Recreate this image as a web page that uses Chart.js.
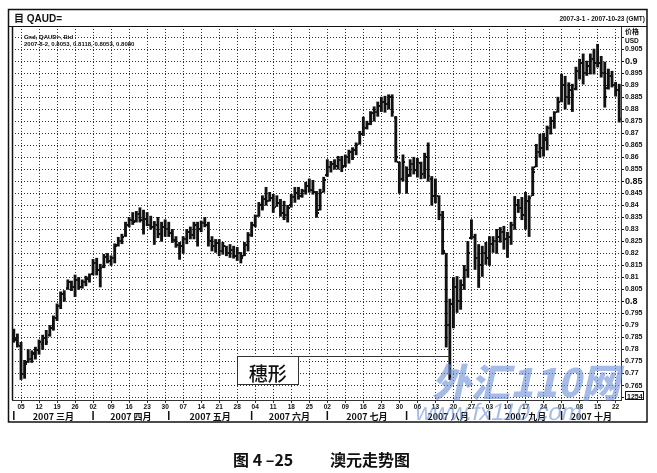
<!DOCTYPE html>
<html>
<head>
<meta charset="utf-8">
<script src="https://cdn.jsdelivr.net/npm/chart.js@4.4.1/dist/chart.umd.min.js"></script>
<style>
  html, body { margin: 0; padding: 0; background: #fff; }
</style>
</head>
<body>
<canvas id="audChart" width="657" height="473"></canvas>
<script>
// header texts
const symbol = 'QAUD=';
const rangeText = '2007-3-1 - 2007-10-23 (GMT)';
const legendLines = ['Cnd, QAUD=, Bid', '2007-8-2, 0.8053, 0.8118, 0.8053, 0.8080'];
const monthNames = ['2007 三月', '2007 四月', '2007 五月', '2007 六月', '2007 七月', '2007 八月', '2007 九月', '2007 十月'];
const captionNumber = '图 4 –25';
const captionTitle = '澳元走势图';
const noteText = '穗形';
const lastBoxText = '1254';

// daily bars, 2007-03-01 .. 2007-10-23 (weekdays)
const highs = [
  0.7885, 0.7865, 0.7830, 0.7755, 0.7800, 0.7795, 0.7810, 0.7840, 0.7860, 0.7880,
  0.7900, 0.7940, 0.7990, 0.8040, 0.8045, 0.8090, 0.8085, 0.8110, 0.8100, 0.8090,
  0.8105, 0.8115, 0.8175, 0.8180, 0.8155, 0.8196, 0.8200, 0.8190, 0.8240, 0.8267,
  0.8280, 0.8330, 0.8350, 0.8370, 0.8375, 0.8390, 0.8380, 0.8370, 0.8355, 0.8333,
  0.8350, 0.8330, 0.8340, 0.8330, 0.8300, 0.8270, 0.8246, 0.8270, 0.8300, 0.8310,
  0.8330, 0.8330, 0.8335, 0.8350, 0.8330, 0.8270, 0.8258, 0.8258, 0.8246, 0.8230,
  0.8237, 0.8230, 0.8225, 0.8204, 0.8246, 0.8287, 0.8330, 0.8360, 0.8412, 0.8440,
  0.8475, 0.8454, 0.8446, 0.8440, 0.8425, 0.8417, 0.8400, 0.8446, 0.8475, 0.8475,
  0.8467, 0.8496, 0.8510, 0.8504, 0.8458, 0.8467, 0.8517, 0.8590, 0.8583, 0.8590,
  0.8604, 0.8604, 0.8610, 0.8630, 0.8640, 0.8660, 0.8708, 0.8767, 0.8750, 0.8790,
  0.8810, 0.8830, 0.8850, 0.8854, 0.8860, 0.8860, 0.8770, 0.8580, 0.8610, 0.8560,
  0.8590, 0.8600, 0.8596, 0.8580, 0.8617, 0.8660, 0.8520, 0.8510, 0.8440, 0.8375,
  0.8200, 0.8010, 0.8100, 0.8104, 0.8090, 0.8150, 0.8250, 0.8340, 0.8280, 0.8237,
  0.8230, 0.8246, 0.8270, 0.8270, 0.8300, 0.8308, 0.8313, 0.8288, 0.8330, 0.8437,
  0.8425, 0.8433, 0.8454, 0.8440, 0.8560, 0.8654, 0.8696, 0.8700, 0.8730, 0.8767,
  0.8790, 0.8850, 0.8946, 0.8937, 0.8910, 0.8904, 0.8975, 0.9008, 0.9030, 0.9000,
  0.9030, 0.9050, 0.9070, 0.9020, 0.8996, 0.8967, 0.8958, 0.8912, 0.8904
];
const lows = [
  0.7830, 0.7810, 0.7675, 0.7680, 0.7746, 0.7746, 0.7760, 0.7780, 0.7800, 0.7820,
  0.7855, 0.7880, 0.7920, 0.7970, 0.8000, 0.8050, 0.8045, 0.8020, 0.8050, 0.8055,
  0.8065, 0.8080, 0.8110, 0.8110, 0.8060, 0.8140, 0.8160, 0.8150, 0.8160, 0.8230,
  0.8240, 0.8270, 0.8310, 0.8320, 0.8330, 0.8330, 0.8280, 0.8315, 0.8300, 0.8237,
  0.8265, 0.8250, 0.8270, 0.8270, 0.8245, 0.8225, 0.8175, 0.8200, 0.8240, 0.8260,
  0.8260, 0.8230, 0.8290, 0.8310, 0.8230, 0.8210, 0.8204, 0.8190, 0.8196, 0.8190,
  0.8183, 0.8180, 0.8170, 0.8160, 0.8190, 0.8210, 0.8270, 0.8310, 0.8354, 0.8380,
  0.8400, 0.8417, 0.8370, 0.8395, 0.8354, 0.8340, 0.8330, 0.8392, 0.8412, 0.8425,
  0.8433, 0.8446, 0.8454, 0.8446, 0.8350, 0.8380, 0.8454, 0.8520, 0.8538, 0.8550,
  0.8550, 0.8540, 0.8560, 0.8575, 0.8590, 0.8610, 0.8654, 0.8690, 0.8717, 0.8735,
  0.8750, 0.8770, 0.8790, 0.8787, 0.8800, 0.8770, 0.8580, 0.8450, 0.8500, 0.8450,
  0.8520, 0.8530, 0.8517, 0.8510, 0.8512, 0.8500, 0.8400, 0.8410, 0.8340, 0.8196,
  0.7810, 0.7675, 0.7890, 0.7954, 0.7967, 0.8050, 0.8100, 0.8260, 0.8133, 0.8058,
  0.8104, 0.8154, 0.8150, 0.8204, 0.8200, 0.8246, 0.8217, 0.8183, 0.8237, 0.8300,
  0.8370, 0.8340, 0.8300, 0.8270, 0.8440, 0.8560, 0.8600, 0.8604, 0.8630, 0.8696,
  0.8720, 0.8787, 0.8830, 0.8800, 0.8820, 0.8790, 0.8880, 0.8925, 0.8904, 0.8940,
  0.8946, 0.8946, 0.8975, 0.8933, 0.8808, 0.8883, 0.8892, 0.8854, 0.8746
];
const opens = [
  0.7870, 0.7845, 0.7815, 0.7700, 0.7750, 0.7760, 0.7780, 0.7800, 0.7825, 0.7850,
  0.7860, 0.7890, 0.7930, 0.7980, 0.8030, 0.8055, 0.8080, 0.8060, 0.8090, 0.8060,
  0.8080, 0.8095, 0.8115, 0.8160, 0.8130, 0.8145, 0.8185, 0.8170, 0.8180, 0.8235,
  0.8250, 0.8275, 0.8320, 0.8340, 0.8335, 0.8365, 0.8340, 0.8345, 0.8320, 0.8310,
  0.8320, 0.8280, 0.8310, 0.8300, 0.8285, 0.8255, 0.8235, 0.8230, 0.8260, 0.8290,
  0.8275, 0.8320, 0.8300, 0.8325, 0.8320, 0.8250, 0.8230, 0.8245, 0.8210, 0.8230,
  0.8200, 0.8215, 0.8190, 0.8200, 0.8190, 0.8235, 0.8275, 0.8320, 0.8355, 0.8400,
  0.8425, 0.8420, 0.8430, 0.8395, 0.8410, 0.8370, 0.8360, 0.8400, 0.8435, 0.8450,
  0.8440, 0.8460, 0.8480, 0.8465, 0.8455, 0.8380, 0.8455, 0.8525, 0.8560, 0.8570,
  0.8565, 0.8590, 0.8565, 0.8600, 0.8620, 0.8630, 0.8655, 0.8695, 0.8720, 0.8740,
  0.8785, 0.8790, 0.8815, 0.8830, 0.8820, 0.8850, 0.8765, 0.8580, 0.8510, 0.8560,
  0.8525, 0.8570, 0.8545, 0.8575, 0.8530, 0.8600, 0.8510, 0.8440, 0.8440, 0.8360,
  0.8200, 0.7900, 0.7990, 0.8060, 0.8000, 0.8070, 0.8130, 0.8265, 0.8270, 0.8180,
  0.8150, 0.8200, 0.8180, 0.8240, 0.8250, 0.8270, 0.8290, 0.8260, 0.8270, 0.8320,
  0.8400, 0.8390, 0.8360, 0.8420, 0.8440, 0.8560, 0.8620, 0.8640, 0.8670, 0.8720,
  0.8750, 0.8790, 0.8840, 0.8900, 0.8850, 0.8880, 0.8885, 0.8950, 0.8990, 0.8950,
  0.8980, 0.9010, 0.8990, 0.8990, 0.8950, 0.8890, 0.8940, 0.8900, 0.8880
];
const closes = [
  0.7840, 0.7820, 0.7700, 0.7740, 0.7760, 0.7785, 0.7800, 0.7830, 0.7850, 0.7830,
  0.7890, 0.7930, 0.7980, 0.8030, 0.8010, 0.8080, 0.8060, 0.8090, 0.8060, 0.8080,
  0.8095, 0.8105, 0.8160, 0.8130, 0.8140, 0.8185, 0.8170, 0.8180, 0.8230, 0.8250,
  0.8270, 0.8320, 0.8340, 0.8330, 0.8365, 0.8340, 0.8345, 0.8320, 0.8310, 0.8320,
  0.8280, 0.8310, 0.8300, 0.8285, 0.8255, 0.8235, 0.8230, 0.8260, 0.8290, 0.8275,
  0.8320, 0.8300, 0.8325, 0.8320, 0.8250, 0.8230, 0.8245, 0.8210, 0.8230, 0.8200,
  0.8215, 0.8190, 0.8200, 0.8180, 0.8235, 0.8275, 0.8320, 0.8355, 0.8400, 0.8425,
  0.8420, 0.8430, 0.8390, 0.8410, 0.8370, 0.8360, 0.8390, 0.8435, 0.8450, 0.8440,
  0.8460, 0.8480, 0.8465, 0.8455, 0.8370, 0.8450, 0.8505, 0.8560, 0.8570, 0.8565,
  0.8590, 0.8560, 0.8600, 0.8620, 0.8630, 0.8650, 0.8695, 0.8720, 0.8740, 0.8785,
  0.8790, 0.8815, 0.8830, 0.8820, 0.8850, 0.8790, 0.8600, 0.8510, 0.8580, 0.8520,
  0.8570, 0.8545, 0.8580, 0.8530, 0.8600, 0.8520, 0.8440, 0.8460, 0.8360, 0.8210,
  0.7900, 0.7990, 0.8060, 0.8000, 0.8070, 0.8130, 0.8200, 0.8290, 0.8180, 0.8150,
  0.8200, 0.8180, 0.8240, 0.8250, 0.8270, 0.8290, 0.8260, 0.8270, 0.8320, 0.8400,
  0.8390, 0.8360, 0.8420, 0.8430, 0.8540, 0.8620, 0.8640, 0.8680, 0.8720, 0.8750,
  0.8785, 0.8830, 0.8900, 0.8850, 0.8880, 0.8860, 0.8960, 0.8990, 0.8950, 0.8980,
  0.9010, 0.8990, 0.8990, 0.8950, 0.8850, 0.8940, 0.8900, 0.8880, 0.8760
];

// price axis
const yMin = 0.7590;
const yMax = 0.9146;
const priceStep = 0.005;
const boldPrices = [0.8, 0.85, 0.9];

// "穗形" note: box between two bars, leader line to the spike bar
const spikeIndex = 121;
const noteFrom = 62;
const noteTo = 79;
const noteTop = 0.7775;
const noteBottom = 0.7655;

// weekday calendar
const days = [];
for (let d = new Date(Date.UTC(2007, 2, 1)); d <= new Date(Date.UTC(2007, 9, 23)); d.setUTCDate(d.getUTCDate() + 1)) {
    const wd = d.getUTCDay();
    if (wd !== 0 && wd !== 6) days.push(new Date(d));
}
const labels = days.map(d => d.toISOString().slice(0, 10));
const isMonday = days.map(d => d.getUTCDay() === 1);
const dayLabels = days.map((d, i) => isMonday[i] ? String(d.getUTCDate()).padStart(2, '0') : '');

// little open / close ticks
function tickImage(left) {
    const c = document.createElement('canvas');
    c.width = 4; c.height = 2;
    const g = c.getContext('2d');
    g.fillStyle = '#111';
    g.fillRect(left ? 0 : 3, 0, 1, 2);
    return c;
}
const openTick = tickImage(true);
const closeTick = tickImage(false);

const LATIN = '"Liberation Sans", Arial, sans-serif';
const CJK = '"Noto Sans CJK SC", sans-serif';

const decor = {
    id: 'decor',
    beforeDraw(chart) {
        const ctx = chart.ctx;
        ctx.save();
        ctx.fillStyle = '#fff';
        ctx.fillRect(0, 0, chart.width, chart.height);
        ctx.restore();
    },
    afterDraw(chart) {
        const ctx = chart.ctx;
        const a = chart.chartArea;
        const xs = chart.scales.x;
        const ys = chart.scales.y;
        const line = (x1, y1, x2, y2, w) => {
            ctx.lineWidth = w;
            ctx.beginPath(); ctx.moveTo(x1, y1); ctx.lineTo(x2, y2); ctx.stroke();
        };
        ctx.save();
        ctx.strokeStyle = '#111';
        ctx.fillStyle = '#111';

        // frame
        ctx.lineWidth = 1.5;
        ctx.strokeRect(8.5, 9.5, 638.5, 412.5);
        line(8, a.top + 0.5, 647, a.top + 0.5, 1);
        line(a.left + 0.5, a.top, a.left + 0.5, a.bottom, 1.5);

        // title row
        ctx.textAlign = 'left';
        ctx.font = 'bold 10px "Liberation Sans", ' + CJK;
        ctx.fillText('目 ' + symbol, 14, 22);
        ctx.textAlign = 'right';
        ctx.font = 'bold 6.5px ' + LATIN;
        ctx.fillText(rangeText, 645, 21);

        // legend lines
        ctx.textAlign = 'left';
        ctx.font = 'bold 6px ' + LATIN;
        ctx.fillText(legendLines[0], 24, 39);
        ctx.fillText(legendLines[1], 24, 46);

        // unit
        ctx.font = 'bold 7px ' + CJK;
        ctx.fillText('价格', 625, 34);
        ctx.font = 'bold 6.5px ' + LATIN;
        ctx.fillText('USD', 625, 43);

        // last price box
        ctx.lineWidth = 1;
        ctx.strokeRect(625.5, 391.5, 18, 8);
        ctx.font = 'bold 7px ' + LATIN;
        ctx.fillText(lastBoxText, 627, 398.5);

        // month row
        const starts = [];
        days.forEach((d, i) => { if (i === 0 || d.getUTCMonth() !== days[i - 1].getUTCMonth()) starts.push(i); });
        ctx.font = 'bold 9px ' + CJK;
        ctx.textAlign = 'center';
        starts.forEach((s, k) => {
            const x0 = xs.getPixelForValue(s);
            const x1 = k + 1 < starts.length ? xs.getPixelForValue(starts[k + 1]) : a.right;
            line(x0, 411, x0, 420, 1.5);
            ctx.fillText(monthNames[k], (x0 + x1) / 2, 419.5);
        });

        // note box + leader line
        const nl = xs.getPixelForValue(noteFrom);
        const nr = xs.getPixelForValue(noteTo);
        const nt = Math.round(ys.getPixelForValue(noteTop)) + 0.5;
        const nb = Math.round(ys.getPixelForValue(noteBottom)) + 0.5;
        ctx.fillStyle = '#fff';
        ctx.fillRect(nl, nt, nr - nl, nb - nt);
        ctx.strokeStyle = '#333';
        ctx.lineWidth = 1;
        ctx.strokeRect(Math.round(nl) + 0.5, nt, Math.round(nr - nl), nb - nt);
        line(nr, nt, xs.getPixelForValue(spikeIndex), nt, 1);
        ctx.fillStyle = '#111';
        ctx.font = '500 19px ' + CJK;
        ctx.textAlign = 'center';
        ctx.fillText(noteText, (nl + nr) / 2, nb - 4);

        // scanned-book watermark
        ctx.globalAlpha = 0.6;
        ctx.fillStyle = '#6a8fd6';
        ctx.save();
        ctx.translate(432, 397);
        ctx.transform(1, 0, -0.22, 1, 0, 0);
        ctx.textAlign = 'left';
        ctx.font = '900 39px ' + CJK;
        ctx.fillText('外汇110网', 0, 0);
        ctx.restore();
        ctx.save();
        ctx.translate(414, 420);
        ctx.transform(1, 0, -0.22, 1, 0, 0);
        ctx.font = '24px ' + LATIN;
        ctx.textAlign = 'left';
        ctx.fillText('www.fx110.com', 0, 0);
        ctx.restore();
        ctx.globalAlpha = 1;

        // caption
        ctx.fillStyle = '#111';
        ctx.textAlign = 'left';
        ctx.font = 'bold 16px ' + CJK;
        ctx.fillText(captionNumber, 233, 466);
        ctx.fillText(captionTitle, 330, 466);
        ctx.restore();
    }
};

new Chart(document.getElementById('audChart'), {
    type: 'bar',
    data: {
        labels: labels,
        datasets: [
            {
                type: 'bar',
                data: highs.map((h, i) => [lows[i], h]),
                backgroundColor: '#111',
                borderWidth: 0,
                barThickness: 2.2,
                order: 2
            },
            {
                type: 'line',
                data: opens,
                showLine: false,
                pointStyle: openTick,
                pointRadius: 2,
                order: 1
            },
            {
                type: 'line',
                data: closes,
                showLine: false,
                pointStyle: closeTick,
                pointRadius: 2,
                order: 1
            }
        ]
    },
    options: {
        responsive: false,
        animation: false,
        devicePixelRatio: 1,
        layout: { padding: { left: 12, right: 0, top: 26, bottom: 51 } },
        plugins: { legend: { display: false }, tooltip: { enabled: false } },
        scales: {
            x: {
                offset: true,
                grid: {
                    offset: false,
                    color: c => (c.index !== undefined && isMonday[c.index]) ? '#333' : 'rgba(0,0,0,0)',
                    lineWidth: 1,
                    tickLength: 3
                },
                border: { display: true, color: '#333', dash: [1, 2] },
                ticks: {
                    autoSkip: false,
                    maxRotation: 0,
                    minRotation: 0,
                    padding: 0,
                    color: '#111',
                    font: { family: 'Liberation Sans', size: 6.5, weight: 'bold' },
                    callback: (v, i) => dayLabels[i]
                },
                afterFit: s => { s.height = 22; }
            },
            y: {
                position: 'right',
                min: yMin,
                max: yMax,
                grid: { color: '#333', lineWidth: 1, tickLength: 3, tickColor: '#111' },
                border: { display: true, color: '#333', dash: [1, 2] },
                ticks: {
                    stepSize: priceStep,
                    includeBounds: false,
                    autoSkip: false,
                    padding: 1,
                    color: '#111',
                    font: c => {
                        const v = c.tick ? +c.tick.value.toFixed(3) : 0;
                        return { family: 'Liberation Sans', weight: 'bold', size: boldPrices.includes(v) ? 9 : 7 };
                    },
                    callback: v => (v > 0.906 || v < 0.762) ? '' : String(+v.toFixed(3))
                },
                afterFit: s => { s.width = 36; }
            }
        }
    },
    plugins: [decor]
});
</script>
</body>
</html>
